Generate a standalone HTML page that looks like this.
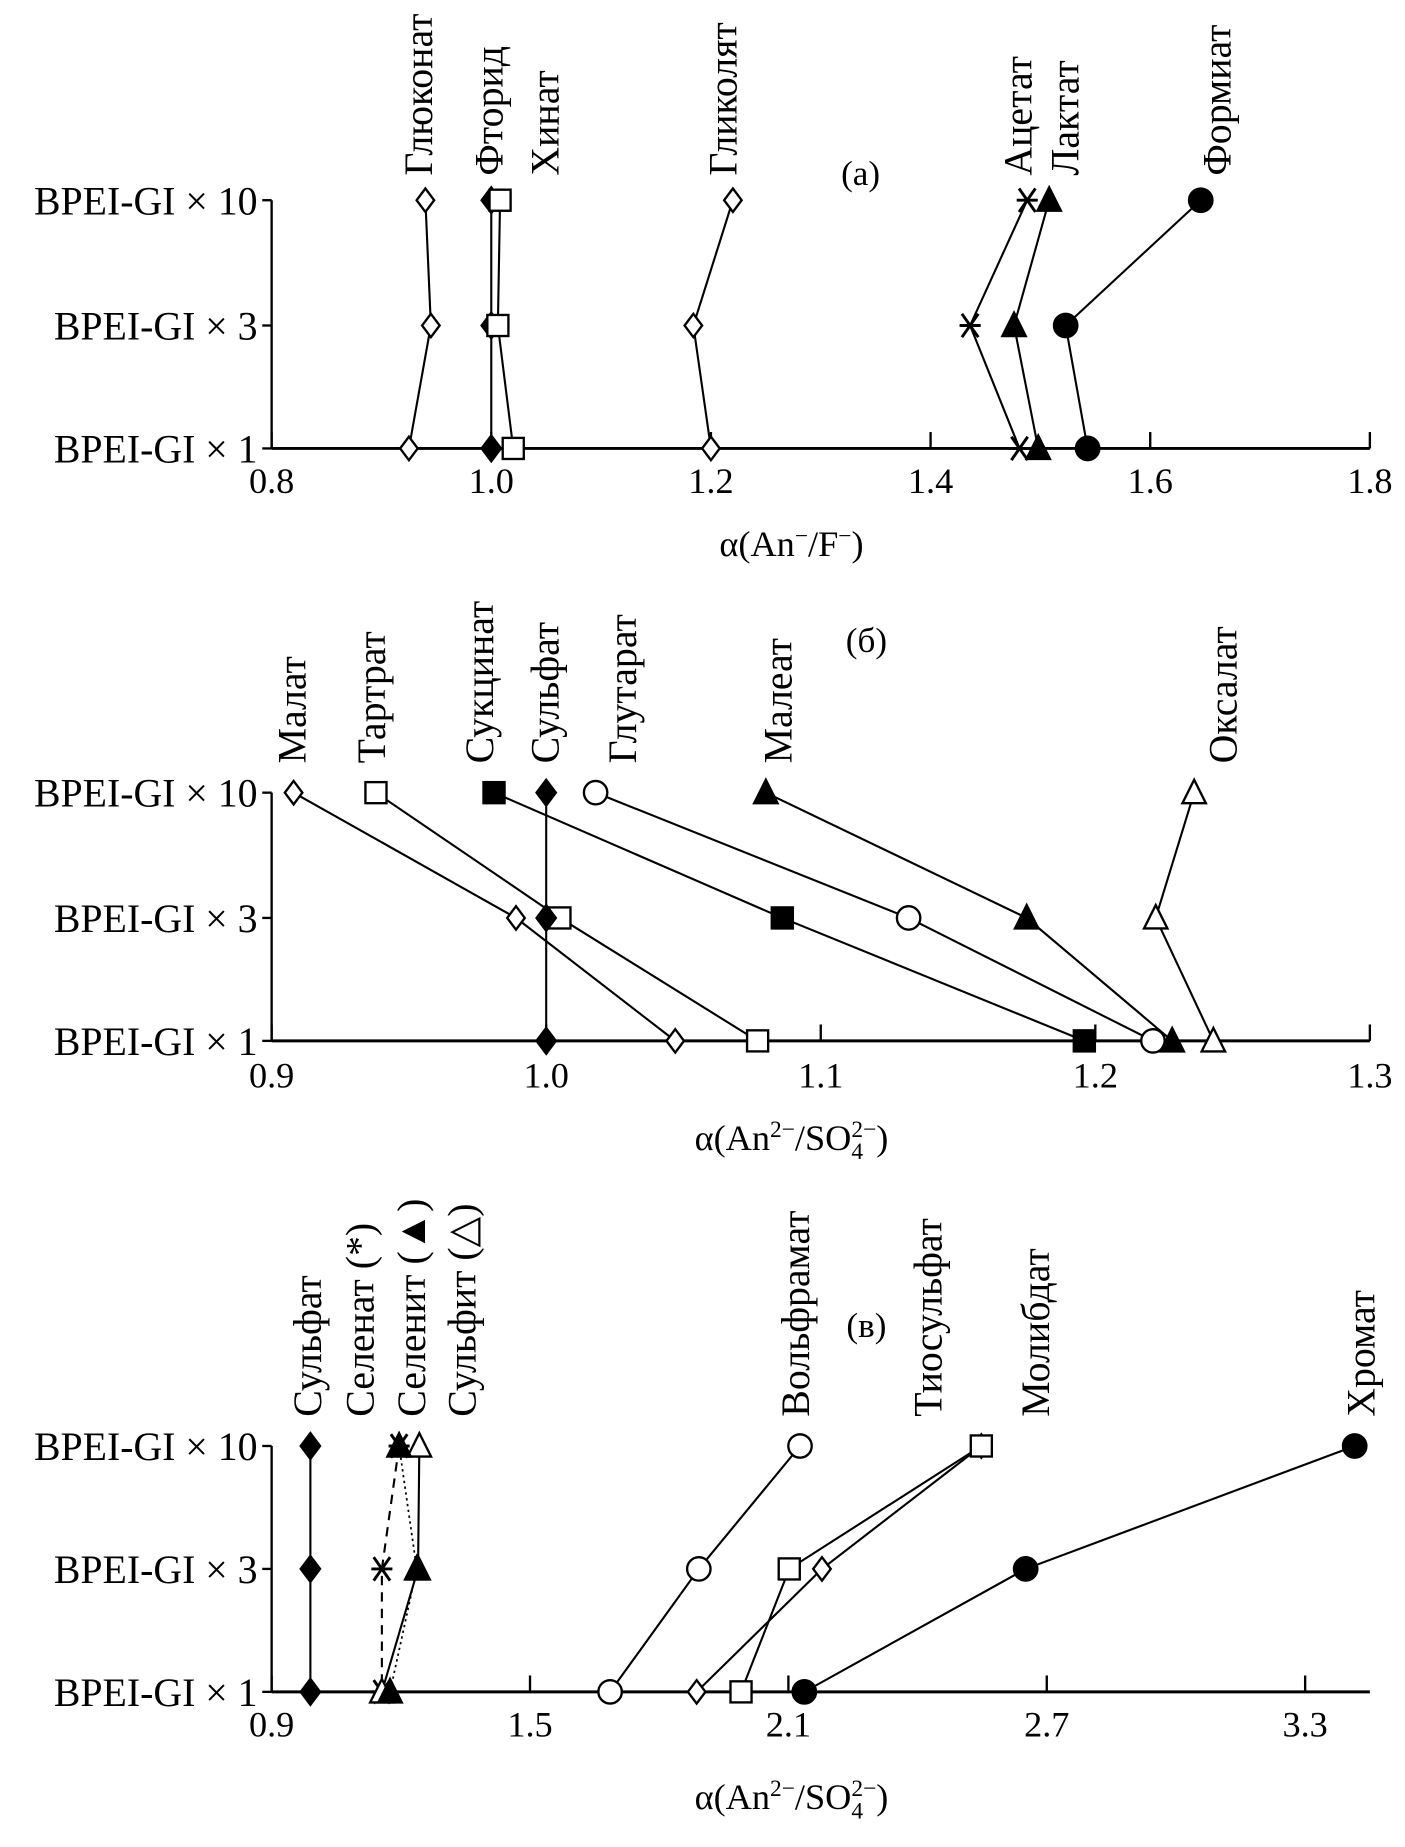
<!DOCTYPE html>
<html><head><meta charset="utf-8"><style>
html,body{margin:0;padding:0;background:#fff}
svg{display:block}
text{font-family:"Liberation Serif","DejaVu Serif",serif;fill:#000}
</style></head><body>
<svg id="chart" xmlns="http://www.w3.org/2000/svg" width="1405" height="1847" viewBox="0 0 1200 1577.5">
<text x="735" y="158" font-size="30" text-anchor="middle">(a)</text>
<text x="740" y="557" font-size="30" text-anchor="middle">(б)</text>
<text x="740" y="1142" font-size="30" text-anchor="middle">(в)</text>
<text x="676" y="475" font-size="31" text-anchor="middle">α(An<tspan dy="-11" font-size="20">−</tspan><tspan dy="11">/F</tspan><tspan dy="-11" font-size="20">−</tspan><tspan dy="11">)</tspan></text>
<text x="676" y="982" font-size="31" text-anchor="middle">α(An<tspan dy="-11" font-size="20">2−</tspan><tspan dy="11">/SO</tspan><tspan dy="8" font-size="20">4</tspan><tspan dx="-10" dy="-19" font-size="20">2−</tspan><tspan dy="11">)</tspan></text>
<text x="676" y="1545" font-size="31" text-anchor="middle">α(An<tspan dy="-11" font-size="20">2−</tspan><tspan dy="11">/SO</tspan><tspan dy="8" font-size="20">4</tspan><tspan dx="-10" dy="-19" font-size="20">2−</tspan><tspan dy="11">)</tspan></text>
</svg>
<script>
// ---- data ----
const rowLabels = ["BPEI-GI × 10","BPEI-GI × 3","BPEI-GI × 1"];
const ticksA = [0.8,1.0,1.2,1.4,1.6,1.8];
const ticksB = [0.9,1.0,1.1,1.2,1.3];
const ticksC = [0.9,1.5,2.1,2.7,3.3];
const tickLabelsA = ["0.8","1.0","1.2","1.4","1.6","1.8"];
const tickLabelsB = ["0.9","1.0","1.1","1.2","1.3"];
const tickLabelsC = ["0.9","1.5","2.1","2.7","3.3"];
// values ordered [x10, x3, x1]
const namesA = ["Глюконат","Фторид","Хинат","Гликолят","Ацетат","Лактат","Формиат"];
const glukonat = [0.94,0.945,0.925];
const ftorid = [1.0,1.0,1.0];
const hinat = [1.008,1.006,1.02];
const glikolyat = [1.22,1.184,1.2];
const acetat = [1.488,1.436,1.481];
const laktat = [1.508,1.476,1.498];
const formiat = [1.646,1.523,1.543];
const namesB = ["Малат","Тартрат","Сукцинат","Сульфат","Глутарат","Малеат","Оксалат"];
const malat = [0.908,0.989,1.047];
const tartrat = [0.938,1.005,1.077];
const sukcinat = [0.981,1.086,1.196];
const sulfatB = [1.0,1.0,1.0];
const glutarat = [1.018,1.132,1.221];
const maleat = [1.080,1.175,1.228];
const oksalat = [1.236,1.222,1.243];
const namesC = ["Сульфат","Селенат (*)","Селенит (▲)","Сульфит (△)","Вольфрамат","Тиосульфат","Молибдат","Хромат"];
const sulfatC = [0.99,0.99,0.99];
const selenat = [1.196,1.156,1.156];
const selenit = [1.196,1.237,1.175];
const sulfit = [1.243,1.24,1.156];
const volframat = [2.127,1.892,1.686];
const tiosulfat = [2.548,2.178,1.887];
const molibdat = [2.548,2.102,1.99];
const hromat = [3.415,2.651,2.137];

const NS="http://www.w3.org/2000/svg";
const svg=document.getElementById('chart');
function mk(tag,attrs){const e=document.createElementNS(NS,tag);for(const k in attrs)e.setAttribute(k,attrs[k]);svg.appendChild(e);return e;}

const panels=[
 {id:'a',x0:0.8,scale:938,right:1170,rows:[171,278,383],ticks:ticksA,tl:tickLabelsA,tly:421},
 {id:'b',x0:0.9,scale:2345,right:1170,rows:[677,784,889],ticks:ticksB,tl:tickLabelsB,tly:929},
 {id:'c',x0:0.9,scale:367.8,right:1170,rows:[1235,1340,1445],ticks:ticksC,tl:tickLabelsC,tly:1483}
];
function X(p,v){return 232+(v-p.x0)*p.scale;}

panels.forEach(p=>{
  let e=mk('line',{x1:232,y1:p.rows[0],x2:232,y2:p.rows[2],stroke:'#000','stroke-width':2});
  
  
  e=mk('line',{x1:232,y1:p.rows[2],x2:p.right,y2:p.rows[2],stroke:'#000','stroke-width':2.5});
  
  
  p.rows.forEach((y,i)=>{
    let t=mk('line',{x1:224,y1:y,x2:232,y2:y,stroke:'#000','stroke-width':2});
    
    
    let l=mk('text',{x:220,y:y+12,'font-size':34,'text-anchor':'end'});
    l.textContent=rowLabels[i];
    
    
  });
  p.ticks.forEach((v,i)=>{
    const x=X(p,v);
    let t=mk('line',{x1:x,y1:p.rows[2],x2:x,y2:p.rows[2]-14,stroke:'#000','stroke-width':2});
    
    
    let l=mk('text',{x:x,y:p.tly,'font-size':31,'text-anchor':'middle'});
    l.textContent=p.tl[i];
    
    
  });
});

function marker(type,x,y){
  let e;const sw=2;
  if(type==='od'||type==='fd'){const r=type==='od'?10:11;e=mk('polygon',{points:`${x},${y-r} ${x+r*0.75},${y} ${x},${y+r} ${x-r*0.75},${y}`,fill:type==='fd'?'#000':'#fff',stroke:'#000','stroke-width':sw});}
  else if(type==='os'||type==='fs'){const r=9;e=mk('rect',{x:x-r,y:y-r,width:2*r,height:2*r,fill:type==='fs'?'#000':'#fff',stroke:'#000','stroke-width':sw});}
  else if(type==='oc'||type==='fc'){e=mk('circle',{cx:x,cy:y,r:10,fill:type==='fc'?'#000':'#fff',stroke:'#000','stroke-width':sw});}
  else if(type==='ot'||type==='ft'){const r=10;e=mk('polygon',{points:`${x},${y-r-1} ${x+r},${y+r-1} ${x-r},${y+r-1}`,fill:type==='ft'?'#000':'#fff',stroke:'#000','stroke-width':sw});}
  else if(type==='x'){e=mk('path',{d:`M${x-7},${y-10}L${x+7},${y+10}M${x+7},${y-10}L${x-7},${y+10}M${x-9},${y}L${x+9},${y}`,stroke:'#000','stroke-width':2.5,fill:'none'});}
  
  
}
function series(p,name,vals,type,dash){
  const pts=vals.map((v,i)=>[X(p,v),p.rows[i]]);
  const a={points:pts.map(q=>q.join(',')).join(' '),fill:'none',stroke:'#000','stroke-width':dash==='dot'?1.5:1.8};
  if(dash==='dash')a['stroke-dasharray']='8,6';
  if(dash==='dot')a['stroke-dasharray']='2,3';
  const pl=mk('polyline',a);
  
  
  pts.forEach(q=>marker(type,q[0],q[1]));
}
function label(txt,x,yb){
  const t=mk('text',{x:0,y:0,'font-size':34,transform:`translate(${x+11},${yb}) rotate(-90)`});
  t.textContent=txt;
  
  
}
const [A,B,C]=panels;
series(A,'glukonat',glukonat,'od');
series(A,'ftorid',ftorid,'fd');
series(A,'hinat',hinat,'os');
series(A,'glikolyat',glikolyat,'od');
series(A,'acetat',acetat,'x');
series(A,'laktat',laktat,'ft');
series(A,'formiat',formiat,'fc');
[358,418,466,618,870,910,1040].forEach((x,i)=>label(namesA[i],x,150));

series(B,'malat',malat,'od');
series(B,'tartrat',tartrat,'os');
series(B,'sukcinat',sukcinat,'fs');
series(B,'sulfat',sulfatB,'fd');
series(B,'glutarat',glutarat,'oc');
series(B,'maleat',maleat,'ft');
series(B,'oksalat',oksalat,'ot');
[250,318,410,466,532,665,1045].forEach((x,i)=>label(namesB[i],x,652));

series(C,'sulfat',sulfatC,'fd');
series(C,'selenat',selenat,'x','dash');
series(C,'sulfit',sulfit,'ot');
series(C,'selenit',selenit,'ft','dot');
series(C,'volframat',volframat,'oc');
series(C,'tiosulfat',tiosulfat,'od');
series(C,'molibdat',molibdat,'os');
series(C,'hromat',hromat,'fc');
[263,308,352,395,680,793,885,1163].forEach((x,i)=>label(namesC[i],x,1210));
</script>
</body></html>
